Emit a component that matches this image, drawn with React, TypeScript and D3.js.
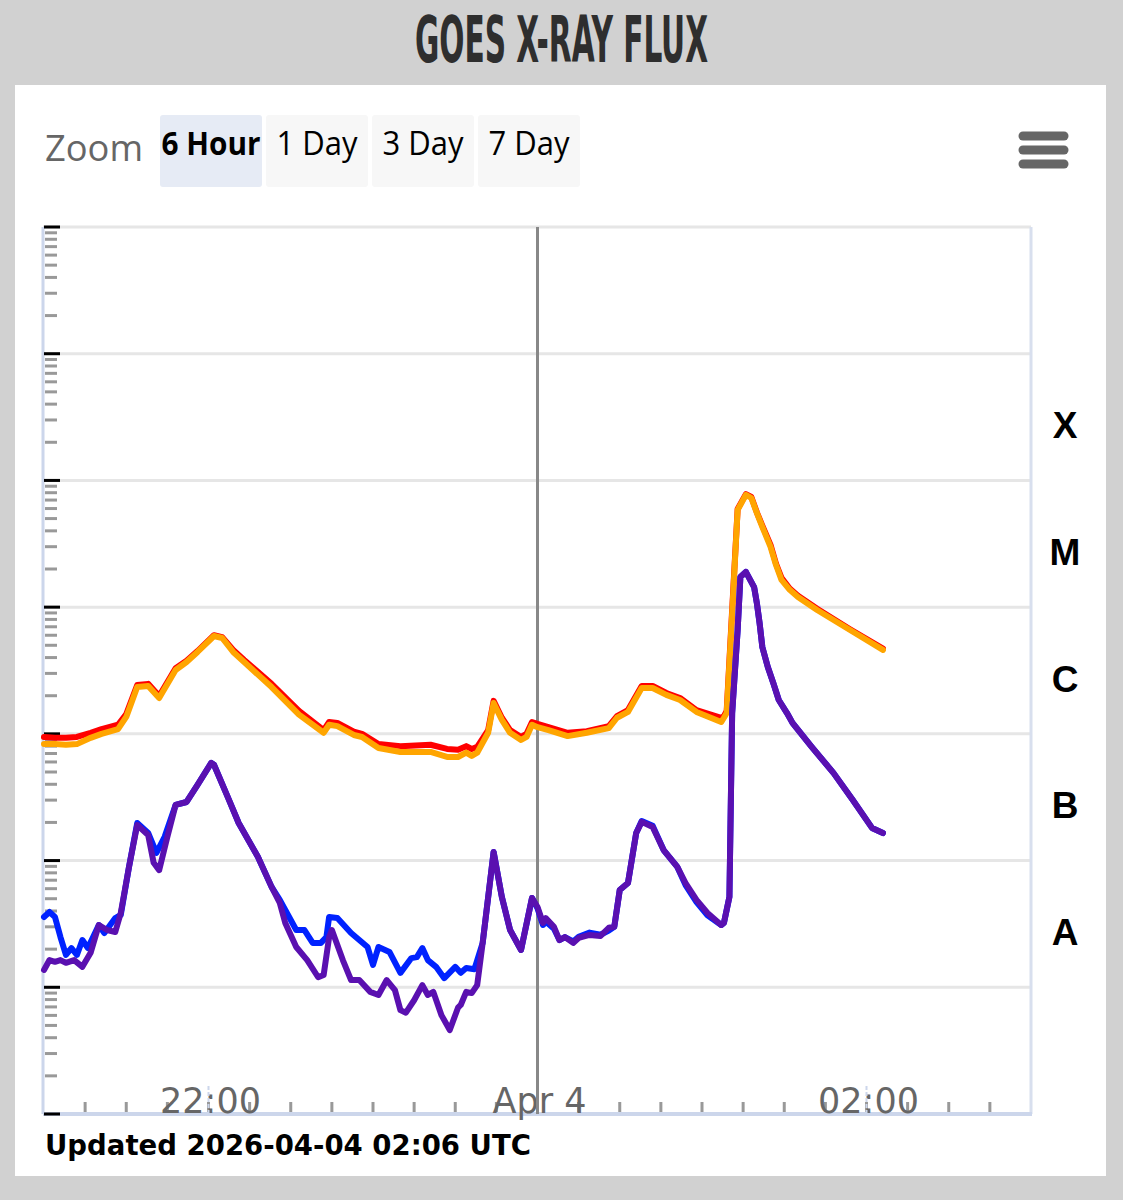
import * as d3 from "d3";

// GOES X-ray flux readings (W/m^2), 2026-04-03 21:00 UTC onward
const LONG_PRIMARY: [string, number][] = [
  ["21:00", 8.3e-7], ["21:04", 8.3e-7], ["21:08", 8.2e-7], ["21:12", 8.3e-7], ["21:17", 9.3e-7],
  ["21:21", 1.0e-6], ["21:27", 1.09e-6], ["21:30", 1.36e-6], ["21:34", 2.34e-6], ["21:38", 2.39e-6],
  ["21:42", 1.92e-6], ["21:48", 3.19e-6], ["21:52", 3.69e-6], ["21:56", 4.43e-6], ["22:02", 5.92e-6],
  ["22:05", 5.71e-6], ["22:09", 4.43e-6], ["22:13", 3.69e-6], ["22:23", 2.34e-6], ["22:33", 1.42e-6],
  ["22:42", 1.02e-6], ["22:44", 1.18e-6], ["22:47", 1.15e-6], ["22:53", 9.8e-7], ["22:56", 9.45e-7],
  ["23:02", 7.74e-7], ["23:10", 7.2e-7], ["23:21", 7.2e-7], ["23:27", 6.57e-7], ["23:31", 6.57e-7],
  ["23:34", 7.1e-7], ["23:36", 6.7e-7], ["23:38", 7.1e-7], ["23:42", 1.02e-6], ["23:44", 1.75e-6],
  ["23:47", 1.29e-6], ["23:50", 1.02e-6], ["23:54", 8.95e-7], ["23:56", 9.45e-7], ["23:58", 1.18e-6],
  ["00:00", 1.13e-6], ["00:04", 1.07e-6], ["00:11", 9.6e-7], ["00:18", 1.02e-6], ["00:26", 1.11e-6],
  ["00:29", 1.34e-6], ["00:33", 1.49e-6], ["00:38", 2.3e-6], ["00:42", 2.3e-6], ["00:47", 2.03e-6],
  ["00:52", 1.85e-6], ["00:58", 1.49e-6], ["01:07", 1.24e-6], ["01:08", 1.34e-6], ["01:09", 1.46e-6],
  ["01:11", 9e-6], ["01:13", 5.85e-5], ["01:16", 7.7e-5], ["01:18", 7.27e-5], ["01:20", 5.54e-5],
  ["01:22", 4.3e-5], ["01:25", 2.99e-5], ["01:27", 2.15e-5], ["01:29", 1.64e-5], ["01:32", 1.37e-5],
  ["01:35", 1.2e-5], ["01:42", 9.5e-6], ["01:54", 6.6e-6], ["02:06", 4.6e-6],
];

const LONG_SECONDARY: [string, number][] = [
  ["21:00", 9.45e-7], ["21:04", 9.3e-7], ["21:08", 9.3e-7], ["21:12", 9.45e-7], ["21:17", 1.02e-6],
  ["21:21", 1.09e-6], ["21:27", 1.18e-6], ["21:30", 1.43e-6], ["21:34", 2.43e-6], ["21:38", 2.48e-6],
  ["21:42", 1.99e-6], ["21:48", 3.3e-6], ["21:52", 3.77e-6], ["21:56", 4.5e-6], ["22:02", 6.0e-6],
  ["22:05", 5.8e-6], ["22:09", 4.6e-6], ["22:13", 3.83e-6], ["22:23", 2.48e-6], ["22:33", 1.52e-6],
  ["22:42", 1.07e-6], ["22:44", 1.24e-6], ["22:47", 1.22e-6], ["22:53", 1.04e-6], ["22:56", 1.0e-6],
  ["23:02", 8.3e-7], ["23:10", 8.0e-7], ["23:21", 8.2e-7], ["23:27", 7.6e-7], ["23:31", 7.5e-7],
  ["23:34", 8.0e-7], ["23:36", 7.6e-7], ["23:38", 7.9e-7], ["23:42", 1.07e-6], ["23:44", 1.82e-6],
  ["23:47", 1.34e-6], ["23:50", 1.07e-6], ["23:54", 9.45e-7], ["23:56", 1.0e-6], ["23:58", 1.24e-6],
  ["00:00", 1.2e-6], ["00:04", 1.13e-6], ["00:11", 1.02e-6], ["00:18", 1.05e-6], ["00:26", 1.15e-6],
  ["00:29", 1.38e-6], ["00:33", 1.54e-6], ["00:38", 2.39e-6], ["00:42", 2.39e-6], ["00:47", 2.1e-6],
  ["00:52", 1.92e-6], ["00:58", 1.54e-6], ["01:07", 1.34e-6], ["01:08", 1.38e-6], ["01:09", 1.52e-6],
  ["01:11", 9.5e-6], ["01:13", 5.95e-5], ["01:16", 7.8e-5], ["01:18", 7.4e-5], ["01:20", 5.6e-5],
  ["01:22", 4.4e-5], ["01:25", 3.1e-5], ["01:27", 2.2e-5], ["01:29", 1.7e-5], ["01:32", 1.4e-5],
  ["01:35", 1.23e-5], ["01:42", 9.7e-6], ["01:54", 6.7e-6], ["02:06", 4.7e-6],
];

const SHORT_PRIMARY: [string, number][] = [
  ["21:00", 1.37e-8], ["21:02", 1.64e-8], ["21:04", 1.59e-8], ["21:06", 1.64e-8], ["21:08", 1.56e-8],
  ["21:11", 1.64e-8], ["21:14", 1.45e-8], ["21:17", 1.87e-8], ["21:20", 3.1e-8], ["21:23", 2.83e-8],
  ["21:26", 2.73e-8], ["21:28", 3.86e-8], ["21:31", 8.9e-8], ["21:34", 1.91e-7], ["21:38", 1.59e-7],
  ["21:40", 9.6e-8], ["21:42", 8.4e-8], ["21:45", 1.54e-7], ["21:48", 2.75e-7], ["21:52", 2.9e-7],
  ["21:56", 3.95e-7], ["22:01", 5.9e-7], ["22:02", 5.7e-7], ["22:07", 3.18e-7], ["22:11", 1.98e-7],
  ["22:18", 1.07e-7], ["22:23", 6.2e-8], ["22:26", 4.63e-8], ["22:28", 3.22e-8], ["22:32", 2.08e-8],
  ["22:36", 1.64e-8], ["22:40", 1.2e-8], ["22:42", 1.25e-8], ["22:44", 2.49e-8], ["22:45", 2.83e-8],
  ["22:49", 1.64e-8], ["22:52", 1.14e-8], ["22:55", 1.14e-8], ["22:59", 9.2e-9], ["23:02", 8.7e-9],
  ["23:05", 1.14e-8], ["23:08", 9.5e-9], ["23:10", 6.6e-9], ["23:12", 6.3e-9], ["23:15", 7.9e-9],
  ["23:18", 1.04e-8], ["23:20", 8.7e-9], ["23:22", 9.2e-9], ["23:25", 6.0e-9], ["23:28", 4.6e-9],
  ["23:31", 6.9e-9], ["23:32", 7.25e-9], ["23:34", 9.2e-9], ["23:36", 9.0e-9], ["23:38", 1.04e-8],
  ["23:40", 2.24e-8], ["23:44", 1.17e-7], ["23:47", 5.16e-8], ["23:50", 2.83e-8], ["23:54", 1.97e-8],
  ["23:58", 5.07e-8], ["00:00", 4.3e-8], ["00:02", 3.22e-8], ["00:03", 3.52e-8], ["00:06", 3.0e-8],
  ["00:08", 2.36e-8], ["00:10", 2.49e-8], ["00:13", 2.24e-8], ["00:15", 2.45e-8], ["00:19", 2.59e-8],
  ["00:23", 2.54e-8], ["00:26", 2.95e-8], ["00:28", 3.0e-8], ["00:30", 5.86e-8], ["00:33", 6.65e-8],
  ["00:36", 1.65e-7], ["00:38", 2.02e-7], ["00:42", 1.84e-7], ["00:46", 1.21e-7], ["00:51", 8.9e-8],
  ["00:54", 6.65e-8], ["00:58", 4.89e-8], ["01:02", 3.86e-8], ["01:07", 3.1e-8], ["01:08", 3.22e-8],
  ["01:10", 5.16e-8], ["01:11", 1.46e-6], ["01:13", 6.6e-6], ["01:14", 1.73e-5], ["01:16", 1.9e-5],
  ["01:19", 1.44e-5], ["01:20", 1.08e-5], ["01:21", 7.5e-6], ["01:22", 4.85e-6], ["01:24", 3.37e-6],
  ["01:26", 2.52e-6], ["01:28", 1.85e-6], ["01:31", 1.46e-6], ["01:33", 1.22e-6], ["01:40", 7.9e-7],
  ["01:48", 4.9e-7], ["01:55", 3.0e-7], ["02:02", 1.81e-7], ["02:06", 1.65e-7],
];

const SHORT_SECONDARY: [string, number][] = [
  ["21:00", 3.59e-8], ["21:02", 3.93e-8], ["21:04", 3.59e-8], ["21:06", 2.49e-8], ["21:08", 1.8e-8],
  ["21:10", 2.04e-8], ["21:12", 1.8e-8], ["21:14", 2.36e-8], ["21:16", 2.04e-8], ["21:20", 3.1e-8],
  ["21:22", 2.68e-8], ["21:26", 3.52e-8], ["21:28", 3.72e-8], ["21:31", 8.9e-8], ["21:34", 1.98e-7],
  ["21:38", 1.65e-7], ["21:41", 1.15e-7], ["21:44", 1.54e-7], ["21:48", 2.75e-7], ["21:52", 2.9e-7],
  ["21:56", 3.95e-7], ["22:01", 5.9e-7], ["22:02", 5.7e-7], ["22:07", 3.18e-7], ["22:11", 1.98e-7],
  ["22:18", 1.07e-7], ["22:23", 6.2e-8], ["22:26", 4.9e-8], ["22:28", 4.07e-8], ["22:32", 2.83e-8],
  ["22:35", 2.83e-8], ["22:38", 2.24e-8], ["22:41", 2.24e-8], ["22:43", 2.49e-8], ["22:44", 3.59e-8],
  ["22:47", 3.52e-8], ["22:52", 2.68e-8], ["22:55", 2.36e-8], ["22:58", 2.08e-8], ["23:00", 1.5e-8],
  ["23:02", 2.08e-8], ["23:06", 1.9e-8], ["23:10", 1.3e-8], ["23:14", 1.7e-8], ["23:16", 1.73e-8],
  ["23:18", 2.04e-8], ["23:20", 1.64e-8], ["23:23", 1.45e-8], ["23:26", 1.18e-8], ["23:30", 1.45e-8],
  ["23:32", 1.3e-8], ["23:34", 1.42e-8], ["23:37", 1.39e-8], ["23:40", 2.24e-8], ["23:44", 1.17e-7],
  ["23:47", 5.16e-8], ["23:50", 2.83e-8], ["23:54", 1.97e-8], ["23:58", 5.07e-8], ["00:00", 4.2e-8],
  ["00:02", 3.1e-8], ["00:03", 3.3e-8], ["00:06", 2.9e-8], ["00:08", 2.36e-8], ["00:10", 2.49e-8],
  ["00:13", 2.3e-8], ["00:15", 2.5e-8], ["00:19", 2.7e-8], ["00:23", 2.6e-8], ["00:26", 2.8e-8],
  ["00:28", 3.0e-8], ["00:30", 5.86e-8], ["00:33", 6.65e-8], ["00:36", 1.65e-7], ["00:38", 2.05e-7],
  ["00:42", 1.88e-7], ["00:46", 1.21e-7], ["00:51", 8.9e-8], ["00:54", 6.4e-8], ["00:58", 4.7e-8],
  ["01:02", 3.7e-8], ["01:07", 3.1e-8], ["01:08", 3.22e-8], ["01:10", 5.16e-8], ["01:11", 1.46e-6],
  ["01:13", 6.6e-6], ["01:14", 1.73e-5], ["01:16", 1.9e-5], ["01:19", 1.44e-5], ["01:20", 1.08e-5],
  ["01:21", 7.5e-6], ["01:22", 4.85e-6], ["01:24", 3.37e-6], ["01:26", 2.52e-6], ["01:28", 1.85e-6],
  ["01:31", 1.46e-6], ["01:33", 1.22e-6], ["01:40", 7.9e-7], ["01:48", 4.9e-7], ["01:55", 3.0e-7],
  ["02:02", 1.81e-7], ["02:06", 1.65e-7],
];

const FLARE_CLASSES = ["A", "B", "C", "M", "X"];
const X_LABELS: [string, string][] = [["22:00", "22:00"], ["00:00", "Apr 4"], ["02:00", "02:00"]];
const ZOOM_BUTTONS = ["6 Hour", "1 Day", "3 Day", "7 Day"];
const UPDATED = "Updated 2026-04-04 02:06 UTC";

const W = 1123;
const H = 1200;
const PLOT = { left: 43, right: 1031, top: 227, bottom: 1114 };
const SANS = "'DejaVu Sans', Verdana, sans-serif";

// times before noon belong to Apr 4
function toDate(t: string): Date {
  const [h, m] = t.split(":").map(Number);
  return new Date(Date.UTC(2026, 3, h < 12 ? 4 : 3, h, m));
}

const xScale = d3
  .scaleUtc()
  .domain([toDate("21:00"), toDate("03:00")])
  .range([PLOT.left + 1, PLOT.right]);

const yScale = d3.scaleLog().domain([1e-9, 1e-2]).range([PLOT.bottom, PLOT.top]);

const line = d3
  .line<[string, number]>()
  .x((d) => xScale(toDate(d[0])))
  .y((d) => yScale(d[1]));

const decades = d3.range(-9, -1).map((e) => Math.pow(10, e));
const minorTicks = d3.range(-9, -2).flatMap((e) => d3.range(2, 10).map((k) => k * Math.pow(10, e)));
const xTicks = d3.utcMinute.every(15)!.range(toDate("21:15"), toDate("03:00"));

const SERIES = [
  { data: LONG_SECONDARY, color: "#ff0000", width: 6 },
  { data: LONG_PRIMARY, color: "#ffa500", width: 6 },
  { data: SHORT_SECONDARY, color: "#0022ff", width: 6 },
  { data: SHORT_PRIMARY, color: "#5a10b0", width: 6 },
];

function Hamburger() {
  return (
    <g stroke="#666" strokeWidth={9} strokeLinecap="round">
      {[136, 150, 164].map((y) => (
        <line key={y} x1={1023} x2={1064} y1={y} y2={y} />
      ))}
    </g>
  );
}

export default function App() {
  const midnight = xScale(toDate("00:00"));
  return (
    <svg width={W} height={H} style={{ position: "absolute", left: 0, top: 0, display: "block" }}>
      <rect width={W} height={H} fill="#d1d1d1" />
      <text
        x={W / 2}
        y={62}
        textAnchor="middle"
        fontFamily="'DejaVu Sans Condensed', 'DejaVu Sans', sans-serif"
        fontWeight="bold"
        fontSize={64}
        fill="#2e2e2e"
        textLength={293}
        lengthAdjust="spacingAndGlyphs"
      >
        GOES X-RAY FLUX
      </text>
      <rect x={15} y={85} width={1091} height={1091} fill="#fff" />

      {/* zoom buttons */}
      <text x={45} y={161} fontFamily="'Open Sans', sans-serif" fontSize={36} fill="#666" textLength={98} lengthAdjust="spacingAndGlyphs">
        Zoom
      </text>
      {ZOOM_BUTTONS.map((label, i) => {
        const bx = 160 + i * 106;
        return (
          <g key={label}>
            <rect x={bx} y={115} width={102} height={72} rx={3} fill={i === 0 ? "#e6ebf5" : "#f7f7f7"} />
            <text
              x={bx + 51}
              y={155}
              textAnchor="middle"
              fontFamily="'Open Sans', sans-serif"
              fontSize={33}
              fontWeight={i === 0 ? "bold" : "normal"}
              fill="#000"
              textLength={i === 0 ? 99 : 81}
              lengthAdjust="spacingAndGlyphs"
            >
              {label}
            </text>
          </g>
        );
      })}
      <Hamburger />

      {/* grid */}
      {decades.map((v) => (
        <line key={v} x1={PLOT.left} x2={PLOT.right} y1={yScale(v)} y2={yScale(v)} stroke="#e6e6e6" strokeWidth={3} />
      ))}
      <line x1={PLOT.right} x2={PLOT.right} y1={PLOT.top} y2={PLOT.bottom} stroke="#d8dfee" strokeWidth={3} />

      {/* x axis */}
      <line x1={PLOT.left} x2={PLOT.right + 1} y1={PLOT.bottom} y2={PLOT.bottom} stroke="#ccd6eb" strokeWidth={4} />
      {xTicks.map((t) => (
        <line key={+t} x1={xScale(t)} x2={xScale(t)} y1={PLOT.bottom - 12} y2={PLOT.bottom - 2} stroke="#999" strokeWidth={3} />
      ))}
      {X_LABELS.map(([t, label]) => (
        <text key={t} x={xScale(toDate(t)) + 2} y={1113} textAnchor="middle" fontFamily={SANS} fontSize={35} fill="#666">
          {label}
        </text>
      ))}
      {[toDate("22:00"), toDate("02:00")].map((t) => (
        <line key={+t} x1={xScale(t)} x2={xScale(t)} y1={PLOT.bottom - 28} y2={PLOT.bottom} stroke="#ccd6eb" strokeWidth={2} strokeDasharray="4 2" />
      ))}

      {/* y axis */}
      <line x1={PLOT.left} x2={PLOT.left} y1={PLOT.top} y2={PLOT.bottom} stroke="#ccd6eb" strokeWidth={3} />
      {minorTicks.map((v) => (
        <line key={v} x1={PLOT.left + 2} x2={PLOT.left + 14} y1={yScale(v)} y2={yScale(v)} stroke="#999" strokeWidth={3} />
      ))}
      {decades.map((v) => (
        <line key={v} x1={PLOT.left + 1} x2={PLOT.left + 17} y1={yScale(v)} y2={yScale(v)} stroke="#000" strokeWidth={3} />
      ))}

      {/* midnight plot line */}
      <line x1={midnight} x2={midnight} y1={PLOT.top} y2={PLOT.bottom} stroke="#888" strokeWidth={3} />

      {/* series */}
      {SERIES.map((s, i) => (
        <path
          key={i}
          d={line(s.data) ?? ""}
          fill="none"
          stroke={s.color}
          strokeWidth={s.width}
          strokeLinejoin="round"
          strokeLinecap="round"
        />
      ))}

      {/* flare class labels */}
      {FLARE_CLASSES.map((c, i) => {
        const lo = Math.pow(10, -8 + i);
        const yMid = yScale(lo * Math.sqrt(10));
        return (
          <text
            key={c}
            x={1065}
            y={yMid + 21}
            textAnchor="middle"
            fontFamily="'Liberation Sans', Arial, sans-serif"
            fontWeight="bold"
            fontSize={37}
            fill="#000"
          >
            {c}
          </text>
        );
      })}

      <text
        x={45}
        y={1155}
        fontFamily={SANS}
        fontWeight="bold"
        fontSize={28}
        fill="#000"
        textLength={486}
        lengthAdjust="spacingAndGlyphs"
      >
        {UPDATED}
      </text>
    </svg>
  );
}
